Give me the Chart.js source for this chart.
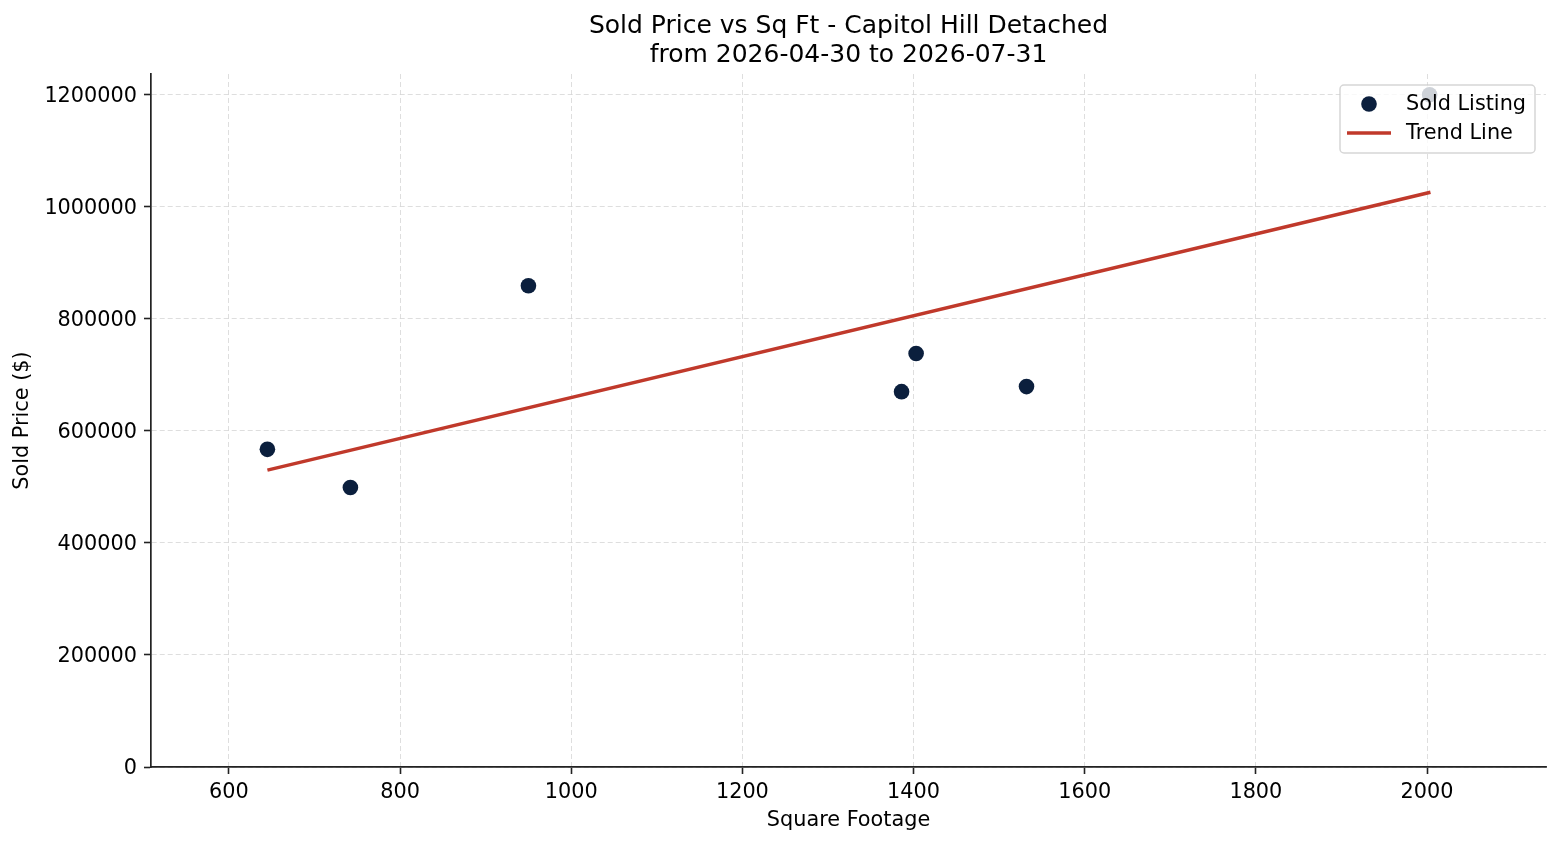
<!DOCTYPE html>
<html>
<head>
<meta charset="utf-8">
<script src="https://cdn.jsdelivr.net/npm/chart.js@4.4.1/dist/chart.umd.min.js"></script>
<style>
	html, body { margin: 0; padding: 0; background: #fff; }
	#wrap { width: 1560px; height: 845px; position: relative; }
</style>
</head>
<body>
<div id="wrap"><canvas id="chart"></canvas></div>
<script>
// sold listings
const sqft = [645, 742, 950, 1386, 1403, 1532, 2003];
const price = [567000, 499000, 859000, 670000, 738000, 679000, 1200000];

// trend line end points
const trendX = [645, 2004];
const trendY = [530000, 1026000];

const xTicks = [600, 800, 1000, 1200, 1400, 1600, 1800, 2000];
const yTicks = [0, 200000, 400000, 600000, 800000, 1000000, 1200000];

const titleLines = ['Sold Price vs Sq Ft - Capitol Hill Detached', 'from 2026-04-30 to 2026-07-31'];
const legendLabels = ['Sold Listing', 'Trend Line'];

const navy = '#0b1f3d';
const red = '#c0392b';
const font = 'DejaVu Sans';

Chart.defaults.font.family = font;
Chart.defaults.color = '#000';

// legend sits inside the plot, drawn on top of the points
const boxLegend = {
	id: 'boxLegend',
	afterDraw(chart) {
		const ctx = chart.ctx;
		const area = chart.chartArea;
		const w = 195, h = 68;
		const x = area.right - 11 - w;
		const y = area.top + 11;

		ctx.save();
		ctx.beginPath();
		ctx.roundRect(x, y, w, h, 4);
		ctx.fillStyle = 'rgba(255,255,255,0.8)';
		ctx.fill();
		ctx.lineWidth = 1.5;
		ctx.strokeStyle = 'rgba(204,204,204,0.8)';
		ctx.stroke();

		// marker for the points
		ctx.beginPath();
		ctx.arc(x + 29, y + 19, 7.8, 0, Math.PI * 2);
		ctx.fillStyle = navy;
		ctx.fill();

		// marker for the line
		ctx.beginPath();
		ctx.moveTo(x + 7, y + 48);
		ctx.lineTo(x + 51, y + 48);
		ctx.lineWidth = 3.5;
		ctx.strokeStyle = red;
		ctx.stroke();

		ctx.fillStyle = '#000';
		ctx.font = '20.8px "' + font + '"';
		ctx.textBaseline = 'middle';
		ctx.textAlign = 'left';
		ctx.fillText(legendLabels[0], x + 66, y + 20);
		ctx.fillText(legendLabels[1], x + 66, y + 49);
		ctx.restore();
	}
};

const gridOpts = {
	color: '#d6d6d6',
	lineWidth: 0.8,
	drawTicks: true,
	tickLength: 7,
	tickColor: '#222',
	tickWidth: 1.6
};

const ctx = document.getElementById('chart').getContext('2d');
const chart = new Chart(ctx, {
	type: 'scatter',
	data: {
		datasets: [{
			label: legendLabels[0],
			data: sqft.map((v, i) => ({x: v, y: price[i]})),
			backgroundColor: navy,
			borderColor: navy,
			pointRadius: 7.8,
			pointHoverRadius: 7.8,
			pointBorderWidth: 0,
			order: 1
		},
		{
			type: 'line',
			label: legendLabels[1],
			data: trendX.map((v, i) => ({x: v, y: trendY[i]})),
			borderColor: red,
			borderWidth: 3.5,
			pointRadius: 0,
			fill: false,
			order: 2
		}]
	},
	options: {
		responsive: true,
		maintainAspectRatio: false,
		animation: false,
		layout: {
			padding: {left: 0, right: 14, top: 0, bottom: 0}
		},
		plugins: {
			legend: { display: false },
			tooltip: { enabled: false },
			title: {
				display: true,
				text: titleLines,
				fullSize: false,
				color: '#000',
				font: { size: 25, weight: 'normal', lineHeight: 1.16 },
				padding: { top: 11.5, bottom: 4.5 }
			}
		},
		scales: {
			x: {
				type: 'linear',
				min: 509,
				max: 2139,
				afterFit: (s) => { s.height = 78; },
				afterBuildTicks: (s) => { s.ticks = xTicks.map(v => ({value: v})); },
				ticks: {
					includeBounds: false,
					stepSize: 200,
					padding: 6,
					color: '#000',
					font: { size: 20.8 },
					maxRotation: 0,
					callback: (v) => String(v)
				},
				grid: gridOpts,
				border: { display: true, color: '#222', width: 1.7, dash: [5, 3] },
				title: {
					display: true,
					text: 'Square Footage',
					color: '#000',
					font: { size: 20.8 },
					padding: { top: 0, bottom: 12 }
				}
			},
			y: {
				type: 'linear',
				min: 0,
				max: 1237000,
				afterFit: (s) => { s.width = 151; },
				afterBuildTicks: (s) => { s.ticks = yTicks.map(v => ({value: v})); },
				ticks: {
					includeBounds: false,
					stepSize: 200000,
					padding: 7,
					labelOffset: 1.5,
					color: '#000',
					font: { size: 20.8 },
					callback: (v) => String(v)
				},
				grid: gridOpts,
				border: { display: true, color: '#222', width: 1.7, dash: [5, 3] },
				title: {
					display: true,
					text: 'Sold Price ($)',
					color: '#000',
					font: { size: 20.8 },
					padding: { top: 10.5, bottom: 0 }
				}
			}
		}
	},
	plugins: [boxLegend]
});
</script>
</body>
</html>
